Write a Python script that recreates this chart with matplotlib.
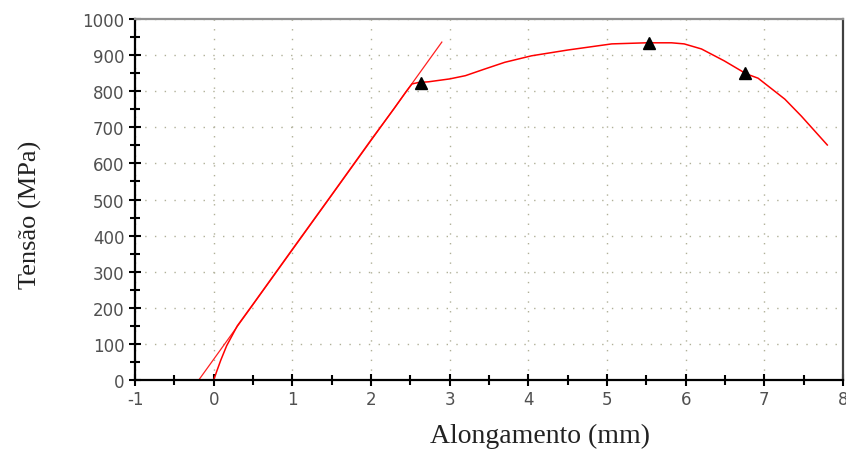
import matplotlib.pyplot as plt
from matplotlib.ticker import MultipleLocator

plt.rcParams['axes.unicode_minus'] = False

# curve (mm, MPa)
along = [0.0, 0.04, 0.09, 0.165, 0.3, 0.5, 1.0, 1.5, 2.0, 2.3, 2.45, 2.52, 2.6, 2.73, 3.0, 3.2,
         3.44, 3.7, 4.04, 4.5, 5.06, 5.5, 5.82, 5.98, 6.2, 6.49, 6.77, 6.92, 7.26, 7.47, 7.8]
tensao = [0, 25, 55, 95, 150, 210, 362, 513, 665, 754, 800, 820, 824, 826, 834, 843,
          861, 880, 898, 914, 931, 934, 934, 931, 917, 884, 848, 836, 778, 731, 651]

# elastic (offset) line
line_x = [-0.19, 2.9]
line_y = [0, 936]

# marked points
mark_x = [2.64, 5.53, 6.76]
mark_y = [822, 934, 850]

fig = plt.figure(figsize=(8.46, 4.52), dpi=100)
ax = fig.add_axes([0.1596, 0.157, 0.8369, 0.7988])

ax.plot(line_x, line_y, color='#ff2020', lw=0.9)
ax.plot(along, tensao, color='#ff0000', lw=1.1)
ax.plot(mark_x, mark_y, 'k^', markersize=8, zorder=5)

ax.set_xlim(-1, 8)
ax.set_ylim(0, 1000)
ax.xaxis.set_major_locator(MultipleLocator(1))
ax.xaxis.set_minor_locator(MultipleLocator(0.5))
ax.yaxis.set_major_locator(MultipleLocator(100))
ax.yaxis.set_minor_locator(MultipleLocator(50))
ax.grid(True, which='major', color='#b0b098', linestyle=(0, (1, 6)), lw=1.0)

ax.tick_params(which='major', direction='inout', length=9, width=1.5, color='black',
               labelsize=12, labelcolor='#505050', pad=3)
ax.tick_params(which='minor', direction='inout', length=7, width=1.5, color='black')

for s in ['left', 'bottom']:
    ax.spines[s].set_color('black')
    ax.spines[s].set_linewidth(1.6)
ax.spines['top'].set_color('#909090')
ax.spines['top'].set_linewidth(1.6)
ax.spines['right'].set_color('#404040')
ax.spines['right'].set_linewidth(1.6)

ax.set_ylabel('Tensão (MPa)', family='Liberation Serif', fontsize=19, color='#222222')
ax.set_xlabel('Alongamento (mm)', family='Liberation Serif', fontsize=20, color='#222222')
ax.yaxis.set_label_coords(-0.131, 0.46)
ax.xaxis.set_label_coords(0.572, -0.118)

fig.savefig('out.png', dpi=100)
